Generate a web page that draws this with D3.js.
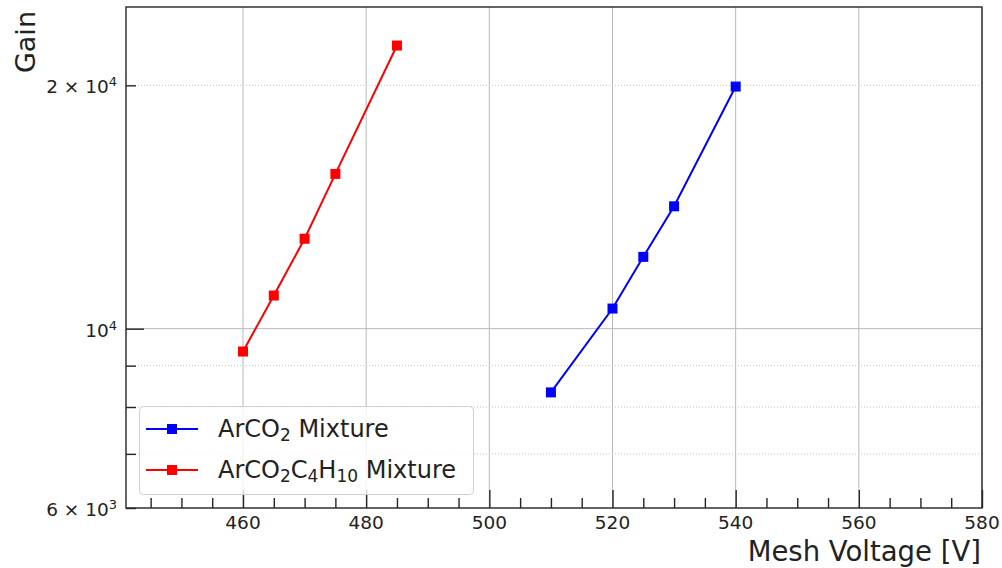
<!DOCTYPE html>
<html>
<head>
<meta charset="utf-8">
<script src="https://cdn.jsdelivr.net/npm/d3@7"></script>
<style>
  body { margin: 0; background: #fff; }
  svg { display: block; font-family: 'DejaVu Sans', sans-serif; }
  .axis path { display: none; }
  .axis line { stroke: #262626; stroke-width: 1.4; }
</style>
</head>
<body>
<div id="chart"></div>
<script>
// Measured gain vs mesh voltage
var arco2Voltage = [510, 520, 525, 530, 540];
var arco2Gain = [8340, 10590, 12270, 14170, 19930];

var isoVoltage = [460, 465, 470, 475, 485];
var isoGain = [9370, 10990, 12920, 15540, 22400];

var seriesNames = [['ArCO', '2', ' Mixture'], ['ArCO', '2', 'C', '4', 'H', '10', ' Mixture']];
var seriesColors = ['#0000ff', '#ff0000'];

var xMajorTicks = [460, 480, 500, 520, 540, 560, 580];
var yMajorTicks = [10000];
var yMinorTicks = [6000, 7000, 8000, 9000, 20000];
var yTickLabels = [[6000, '6 \u00d7 10', '3'], [10000, '10', '4'], [20000, '2 \u00d7 10', '4']];

var width = 1002, height = 568;
var plot = { left: 126, right: 982, top: 7, bottom: 508 };

var svg = d3.select('#chart').append('svg')
  .attr('width', width)
  .attr('height', height);

var x = d3.scaleLinear().domain([441, 580]).range([plot.left, plot.right]);
var y = d3.scaleLog().domain([6000, 25000]).range([plot.bottom, plot.top]);

var xMinorTicks = d3.range(445, 581, 5).filter(function(v) { return v % 20 !== 0; });

// grid lines
var grid = svg.append('g');
grid.selectAll('line.vx')
  .data(xMajorTicks)
  .enter().append('line')
  .attr('x1', x).attr('x2', x)
  .attr('y1', plot.top).attr('y2', plot.bottom)
  .style('stroke', '#b8b8b8')
  .style('stroke-width', 1);

grid.selectAll('line.hy')
  .data(yMajorTicks)
  .enter().append('line')
  .attr('x1', plot.left).attr('x2', plot.right)
  .attr('y1', y).attr('y2', y)
  .style('stroke', '#b8b8b8')
  .style('stroke-width', 1);

grid.selectAll('line.hm')
  .data(yMinorTicks)
  .enter().append('line')
  .attr('x1', plot.left).attr('x2', plot.right)
  .attr('y1', y).attr('y2', y)
  .style('stroke', '#c4c4c4')
  .style('stroke-width', 1)
  .style('stroke-dasharray', '1,2');

// series
var line = d3.line()
  .x(function(d) { return x(d[0]); })
  .y(function(d) { return y(d[1]); });

var series = [d3.zip(arco2Voltage, arco2Gain), d3.zip(isoVoltage, isoGain)];

series.forEach(function(pts, i) {
  svg.append('path')
    .datum(pts)
    .attr('d', line)
    .style('fill', 'none')
    .style('stroke', seriesColors[i])
    .style('stroke-width', 2);

  svg.selectAll('rect.m' + i)
    .data(pts)
    .enter().append('rect')
    .attr('x', function(d) { return x(d[0]) - 5; })
    .attr('y', function(d) { return y(d[1]) - 5; })
    .attr('width', 10)
    .attr('height', 10)
    .style('fill', seriesColors[i]);
});

// ticks (pointing inwards)
svg.append('g')
  .attr('class', 'axis')
  .attr('transform', 'translate(0,' + plot.bottom + ')')
  .call(d3.axisBottom(x).tickValues(xMajorTicks).tickSize(-18).tickFormat(''));

svg.append('g')
  .attr('class', 'axis')
  .attr('transform', 'translate(0,' + plot.bottom + ')')
  .call(d3.axisBottom(x).tickValues(xMinorTicks).tickSize(-10).tickFormat(''));

svg.append('g')
  .attr('class', 'axis')
  .attr('transform', 'translate(' + plot.left + ',0)')
  .call(d3.axisLeft(y).tickValues(yMajorTicks).tickSize(-18).tickFormat(''));

svg.append('g')
  .attr('class', 'axis')
  .attr('transform', 'translate(' + plot.left + ',0)')
  .call(d3.axisLeft(y).tickValues(yMinorTicks).tickSize(-10).tickFormat(''));

// x tick labels
svg.selectAll('text.xt')
  .data(xMajorTicks)
  .enter().append('text')
  .attr('x', x)
  .attr('y', 529)
  .attr('text-anchor', 'middle')
  .style('font-size', '18.5px')
  .style('fill', '#222')
  .text(function(d) { return d; });

// y tick labels with exponent
var yt = svg.selectAll('text.yt')
  .data(yTickLabels)
  .enter().append('text')
  .attr('x', 117)
  .attr('y', function(d) { return y(d[0]) + 8; })
  .attr('text-anchor', 'end')
  .style('font-size', '18.5px')
  .style('fill', '#222');
yt.append('tspan').text(function(d) { return d[1]; });
yt.append('tspan')
  .attr('dy', -7)
  .style('font-size', '13px')
  .text(function(d) { return d[2]; });

// frame
svg.append('rect')
  .attr('x', plot.left).attr('y', plot.top)
  .attr('width', plot.right - plot.left)
  .attr('height', plot.bottom - plot.top)
  .style('fill', 'none')
  .style('stroke', '#262626')
  .style('stroke-width', 1.4);

// axis titles
svg.append('text')
  .attr('x', 981)
  .attr('y', 561)
  .attr('text-anchor', 'end')
  .style('font-size', '27.5px')
  .style('fill', '#222')
  .text('Mesh Voltage [V]');

svg.append('text')
  .attr('transform', 'translate(35,11) rotate(-90)')
  .attr('text-anchor', 'end')
  .style('font-size', '27px')
  .style('fill', '#222')
  .text('Gain');

// legend
var legend = svg.append('g');
legend.append('rect')
  .attr('x', 139.5).attr('y', 406.5)
  .attr('width', 334).attr('height', 88)
  .attr('rx', 4)
  .style('fill', '#fff')
  .style('fill-opacity', 0.8)
  .style('stroke', '#d0d0d0')
  .style('stroke-width', 1);

var rowY = [429, 470];
seriesNames.forEach(function(parts, i) {
  legend.append('line')
    .attr('x1', 146).attr('x2', 198)
    .attr('y1', rowY[i]).attr('y2', rowY[i])
    .style('stroke', seriesColors[i])
    .style('stroke-width', 2);
  legend.append('rect')
    .attr('x', 167).attr('y', rowY[i] - 5)
    .attr('width', 10).attr('height', 10)
    .style('fill', seriesColors[i]);

  var t = legend.append('text')
    .attr('x', 218)
    .attr('y', rowY[i] + 8)
    .style('font-size', '24px')
    .style('fill', '#222');
  // odd parts are subscripts
  parts.forEach(function(p, j) {
    var s = t.append('tspan').text(p);
    if (j % 2 === 1) {
      s.attr('dy', 4).style('font-size', '17px');
    } else if (j > 0) {
      s.attr('dy', -4);
    }
  });
});
</script>
</body>
</html>
